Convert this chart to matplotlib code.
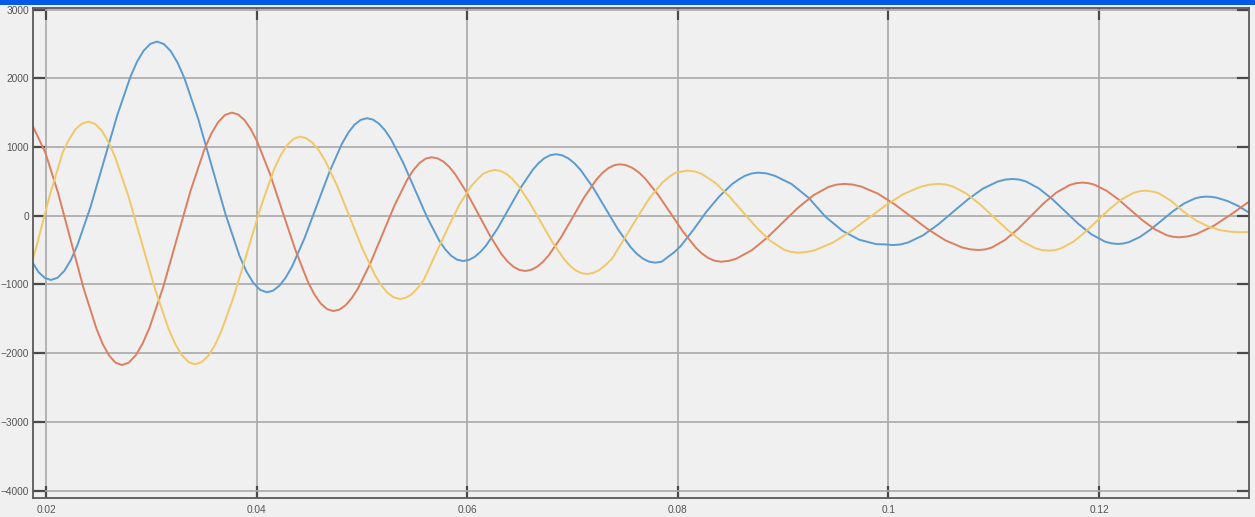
import numpy as np
import matplotlib.pyplot as plt
from matplotlib.patches import Rectangle

# values
blue_x = [0.01877, 0.0193, 0.0199, 0.02048,
          0.02174, 0.02299, 0.02425, 0.02551, 0.02677, 0.02803, 0.02928, 0.03054,
          0.03185, 0.03315, 0.03446, 0.03576, 0.03707, 0.03837, 0.03968, 0.04098,
          0.04217, 0.04336, 0.04454, 0.04573, 0.04692, 0.04811, 0.04929, 0.05048,
          0.05162, 0.05276, 0.05390, 0.05504, 0.05618, 0.05732, 0.05846, 0.05960,
          0.06070, 0.06181, 0.06291, 0.06401, 0.06511, 0.06622, 0.06732, 0.06842,
          0.06960, 0.07078, 0.07196, 0.07314, 0.07431, 0.07549, 0.07667, 0.07785,
          0.07907, 0.08029, 0.08151, 0.08273, 0.08394, 0.08516, 0.08638, 0.08760,
          0.08921, 0.09081, 0.09242, 0.09402, 0.09563, 0.09723, 0.09884, 0.10044,
          0.10186, 0.10328, 0.10470, 0.10612, 0.10755, 0.10897, 0.11039, 0.11181,
          0.11306, 0.11430, 0.11555, 0.11680, 0.11804, 0.11929, 0.12053, 0.12178,
          0.12283, 0.12387, 0.12492, 0.12597, 0.12702, 0.12806, 0.12911, 0.13016,
          0.13118, 0.13220, 0.13322, 0.13424]
blue_y = [-693, -822, -908, -936,
          -804, -428, 135, 799, 1462, 2025, 2401, 2533,
          2394, 1999, 1407, 709, 11, -581, -976, -1115,
          -1019, -744, -333, 152, 636, 1047, 1322, 1418,
          1339, 1114, 777, 379, -19, -356, -581, -660,
          -601, -432, -180, 117, 414, 666, 835, 894,
          834, 663, 407, 105, -197, -453, -624, -684,
          -600, -440, -200, 60, 280, 460, 580, 626,
          580, 460, 260, -15, -220, -350, -415, -428,
          -391, -287, -131, 53, 237, 393, 497, 534,
          498, 395, 242, 61, -120, -273, -376, -412,
          -386, -311, -199, -68, 64, 176, 251, 277,
          261, 213, 141, 44]
# extra readings around the peaks and troughs
blue_x2 = [0.02111, 0.02237, 0.02865, 0.02991, 0.03119, 0.03250, 0.03902, 0.04033,
           0.04157, 0.04276, 0.04870, 0.04989, 0.05105, 0.05219, 0.05789, 0.05903,
           0.06015, 0.06125, 0.06677, 0.06787, 0.06901, 0.07019, 0.07608, 0.07726,
           0.07846, 0.07968, 0.08577, 0.08699, 0.08840, 0.09964, 0.10115, 0.11110,
           0.11243, 0.12116, 0.12230, 0.12964, 0.13067]
blue_y2 = [-903, -644, 2241, 2500, 2498, 2226, -808, -1080,
           -1091, -902, 1205, 1394, 1398, 1243, -485, -640,
           -645, -529, 763, 879, 879, 761, -551, -669,
           -671, -530, 525, 613, 616, -418, -419, 525,
           525, -403, -405, 270, 273]

orange_x = [0.01877, 0.01994, 0.02115, 0.02236, 0.02357, 0.02479, 0.02600, 0.02721,
            0.02852, 0.02982, 0.03113, 0.03243, 0.03374, 0.03504, 0.03635, 0.03765,
            0.03886, 0.04006, 0.04127, 0.04247, 0.04368, 0.04488, 0.04609, 0.04729,
            0.04846, 0.04963, 0.05079, 0.05196, 0.05313, 0.05430, 0.05546, 0.05663,
            0.05774, 0.05884, 0.05995, 0.06106, 0.06217, 0.06327, 0.06438, 0.06549,
            0.06662, 0.06774, 0.06887, 0.07000, 0.07112, 0.07225, 0.07338, 0.07450,
            0.07570, 0.07690, 0.07810, 0.07930, 0.08049, 0.08169, 0.08289, 0.08409,
            0.08555, 0.08702, 0.08848, 0.08994, 0.09140, 0.09287, 0.09433, 0.09579,
            0.09739, 0.09899, 0.10059, 0.10220, 0.10380, 0.10540, 0.10700, 0.10860,
            0.10983, 0.11105, 0.11228, 0.11351, 0.11473, 0.11596, 0.11719, 0.11841,
            0.11956, 0.12070, 0.12185, 0.12299, 0.12414, 0.12529, 0.12643, 0.12758,
            0.12925, 0.13091, 0.13258, 0.13424]
orange_y = [1296, 919, 331, -362, -1055, -1643, -2036, -2174,
            -2034, -1636, -1040, -337, 366, 962, 1360, 1500,
            1390, 1077, 609, 56, -497, -965, -1278, -1388,
            -1303, -1060, -697, -269, 159, 522, 765, 850,
            787, 608, 339, 23, -294, -563, -742, -805,
            -746, -578, -326, -29, 269, 521, 689, 748,
            694, 540, 310, 39, -232, -462, -616, -670,
            -627, -504, -321, -104, 113, 296, 419, 462,
            425, 321, 165, -19, -203, -359, -463, -500,
            -463, -356, -197, -10, 178, 337, 444, 481,
            451, 364, 235, 83, -69, -198, -285, -315,
            -268, -146, 23, 204]
orange_x2 = [0.02539, 0.02660, 0.02786, 0.02917, 0.03569, 0.03700, 0.03825, 0.03946,
             0.04548, 0.04669, 0.04787, 0.04904, 0.05488, 0.05605, 0.05718, 0.05829,
             0.06383, 0.06494, 0.06605, 0.06718, 0.07281, 0.07394, 0.07510, 0.07630,
             0.08229, 0.08349, 0.08482, 0.09506, 0.09659, 0.10780, 0.10921, 0.11780,
             0.11898, 0.12701, 0.12842]
orange_y2 = [-1869, -2139, -2139, -1864, 1190, 1465, 1472, 1257,
             -1145, -1360, -1367, -1199, 661, 829, 834, 711,
             -666, -789, -790, -674, 617, 733, 734, 629,
             -551, -656, -659, 451, 453, -491, -491, 472,
             473, -307, -303]

yellow_x = [0.01877, 0.01914, 0.02037, 0.02159, 0.02282, 0.02404,
            0.02531, 0.02657, 0.02784, 0.02911, 0.03037, 0.03164, 0.03290, 0.03417,
            0.03542, 0.03666, 0.03791, 0.03915, 0.04040, 0.04164, 0.04289, 0.04413,
            0.04532, 0.04650, 0.04769, 0.04888, 0.05006, 0.05125, 0.05243, 0.05362,
            0.05475, 0.05587, 0.05700, 0.05813, 0.05926, 0.06038, 0.06151, 0.06264,
            0.06373, 0.06482, 0.06590, 0.06699, 0.06808, 0.06917, 0.07025, 0.07134,
            0.07254, 0.07374, 0.07494, 0.07614, 0.07733, 0.07853, 0.07973, 0.08093,
            0.08224, 0.08354, 0.08485, 0.08615, 0.08746, 0.08876, 0.09007, 0.09137,
            0.09305, 0.09473, 0.09641, 0.09809, 0.09976, 0.10144, 0.10312, 0.10480,
            0.10611, 0.10741, 0.10872, 0.11002, 0.11133, 0.11263, 0.11394, 0.11524,
            0.11639, 0.11754, 0.11868, 0.11983, 0.12098, 0.12213, 0.12327, 0.12442,
            0.12562, 0.12681, 0.12801, 0.12921, 0.13041, 0.13160, 0.13280, 0.13400, 0.13424]
yellow_y = [-620, -424, 300, 920, 1260, 1369,
            1235, 852, 279, -398, -1074, -1647, -2030, -2164,
            -2038, -1679, -1141, -507, 127, 665, 1024, 1150,
            1060, 804, 421, -32, -484, -867, -1123, -1213,
            -1142, -938, -560, -190, 160, 430, 610, 665,
            607, 443, 198, -92, -382, -627, -791, -849,
            -792, -629, -330, -30, 260, 480, 620, 655,
            610, 480, 286, 58, -170, -364, -494, -539,
            -501, -392, -230, -39, 153, 315, 424, 462,
            425, 320, 162, -24, -210, -368, -473, -510,
            -477, -382, -240, -73, 94, 236, 331, 364,
            330, 220, 60, -70, -160, -215, -238, -240, -233]
yellow_x2 = [0.02220, 0.02343, 0.02467, 0.02594, 0.03227, 0.03354, 0.03479, 0.03604,
             0.04226, 0.04351, 0.04472, 0.04591, 0.05184, 0.05303, 0.05418, 0.05531,
             0.06095, 0.06208, 0.06318, 0.06427, 0.06971, 0.07080, 0.07194, 0.07314,
             0.07913, 0.08033, 0.08158, 0.09072, 0.09221, 0.10396, 0.10545, 0.11459,
             0.11581, 0.12385, 0.12502, 0.13340]
yellow_y2 = [1110, 1340, 1335, 1071, -1866, -2130, -2132, -1885,
             871, 1118, 1127, 951, -1014, -1190, -1195, -1050,
             525, 647, 650, 537, -721, -834, -835, -718,
             560, 641, 644, -528, -529, 452, 453, -501,
             -502, 356, 352, -240]

xticks = [0.02, 0.04, 0.06, 0.08, 0.1, 0.12]
xticklabels = ['0.02', '0.04', '0.06', '0.08', '0.1', '0.12']
yticks = [-4000, -3000, -2000, -1000, 0, 1000, 2000, 3000]


def merged(xa, ya, xb, yb):
    x = np.array(xa + xb)
    y = np.array(ya + yb)
    order = np.argsort(x)
    return x[order], y[order]


plt.rcParams['font.family'] = ['Liberation Sans', 'DejaVu Sans']

fig = plt.figure(figsize=(12.55, 5.17), dpi=100, facecolor='#f0f0f0')
ax = fig.add_axes([33/1255, 1 - 498/517, (1249 - 33)/1255, (498 - 8)/517])
ax.set_facecolor('#f0f0f0')

bx, by = merged(blue_x, blue_y, blue_x2, blue_y2)
ox, oy = merged(orange_x, orange_y, orange_x2, orange_y2)
yx, yy = merged(yellow_x, yellow_y, yellow_x2, yellow_y2)
ax.plot(bx, by, color='#5b9bd0', lw=1.4)
ax.plot(ox, oy, color='#dc7f60', lw=1.4)
ax.plot(yx, yy, color='#efc86a', lw=1.4)

ax.set_xlim(0.01877, 0.13424)
ax.set_ylim(-4109, 3022)
ax.set_xticks(xticks)
ax.set_xticklabels(xticklabels)
ax.set_yticks(yticks)
ax.set_axisbelow(True)
ax.grid(color='#a8a8a8', lw=1.2)
ax.tick_params(direction='in', length=8.5, width=1.6, color='#4a4a4a',
               top=True, right=True, labelsize=7.3, labelcolor='#555555', pad=3)
ax.tick_params(axis='x', pad=5)
for s in ax.spines.values():
    s.set_color('#5a5a5a')
    s.set_linewidth(1.3)

# blue title strip across the top of the window
fig.add_artist(Rectangle((0, 1 - 5/517), 1, 5/517, transform=fig.transFigure,
                         color='#0659e6', lw=0))

fig.savefig('out.png', dpi=100, facecolor=fig.get_facecolor())
